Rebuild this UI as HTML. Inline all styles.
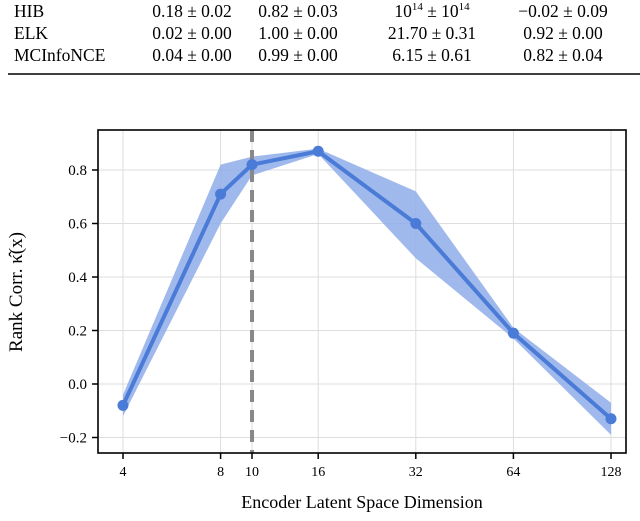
<!DOCTYPE html>
<html><head><meta charset="utf-8"><style>
body{margin:0;background:#fff;width:640px;height:516px;overflow:hidden}
svg text{font-family:"Liberation Serif",serif;fill:#000}
</style></head><body>
<svg width="640" height="516">
<g font-size="17.5">
<text x="14" y="17">HIB</text>
<text x="192" y="17" text-anchor="middle">0.18 ± 0.02</text>
<text x="298" y="17" text-anchor="middle">0.82 ± 0.03</text>
<text x="432" y="17" text-anchor="middle">10<tspan font-size="11" dy="-7">14</tspan><tspan dy="7"> ± 10</tspan><tspan font-size="11" dy="-7">14</tspan></text>
<text x="563" y="17" text-anchor="middle">−0.02 ± 0.09</text>
<text x="14" y="39">ELK</text>
<text x="192" y="39" text-anchor="middle">0.02 ± 0.00</text>
<text x="298" y="39" text-anchor="middle">1.00 ± 0.00</text>
<text x="432" y="39" text-anchor="middle">21.70 ± 0.31</text>
<text x="563" y="39" text-anchor="middle">0.92 ± 0.00</text>
<text x="14" y="61">MCInfoNCE</text>
<text x="192" y="61" text-anchor="middle">0.04 ± 0.00</text>
<text x="298" y="61" text-anchor="middle">0.99 ± 0.00</text>
<text x="432" y="61" text-anchor="middle">6.15 ± 0.61</text>
<text x="563" y="61" text-anchor="middle">0.82 ± 0.04</text>
<line x1="8" y1="74" x2="640" y2="74" stroke="#000" stroke-width="1.6"/>
</g>
<g id="chart"></g>
</svg>
<script>
const dims=[4,8,10,16,32,64,128];
const meanVals=[-0.08,0.71,0.82,0.87,0.60,0.19,-0.13];
const upperVals=[-0.04,0.82,0.85,0.88,0.72,0.21,-0.07];
const lowerVals=[-0.12,0.60,0.78,0.86,0.47,0.17,-0.19];
const yTicks=[-0.2,0.0,0.2,0.4,0.6,0.8];
const yTickLabels=["−0.2","0.0","0.2","0.4","0.6","0.8"];
const xTicks=[4,8,10,16,32,64,128];
const refDim=10;
const L=98,R=626,T=130,B=453;
const xs=d=>123+Math.log2(d/4)*97.6;
const ys=v=>384-v*267.5;
const NS="http://www.w3.org/2000/svg";
const g=document.getElementById('chart');
function mk(t,a,p){const e=document.createElementNS(NS,t);for(const k in a)e.setAttribute(k,a[k]);(p||g).appendChild(e);return e;}
yTicks.forEach((v,i)=>{
 const gl=mk('line',{x1:L,x2:R,y1:ys(v),y2:ys(v),stroke:'#ddd','stroke-width':1});
 
 
 const tk=mk('line',{x1:L-6,x2:L,y1:ys(v),y2:ys(v),stroke:'#000','stroke-width':1.5});
 
 
 const t=mk('text',{x:L-11,y:ys(v)+5,'text-anchor':'end','font-size':15});
 t.textContent=yTickLabels[i];
 
 
});
xTicks.forEach(d=>{
 const gl=mk('line',{x1:xs(d),x2:xs(d),y1:T,y2:B,stroke:'#ddd','stroke-width':1});
 
 
 const tk=mk('line',{x1:xs(d),x2:xs(d),y1:B,y2:B+6,stroke:'#000','stroke-width':1.5});
 
 
 const t=mk('text',{x:xs(d),y:B+23,'text-anchor':'middle','font-size':14});
 t.textContent=d;
 
 
});
let bp=dims.map((d,i)=>xs(d)+','+ys(upperVals[i])).join(' ')+' '+dims.map((d,i)=>xs(d)+','+ys(lowerVals[i])).reverse().join(' ');
const band=mk('polygon',{points:bp,fill:'#8fadea',opacity:0.85});


const vl=mk('line',{x1:xs(refDim),x2:xs(refDim),y1:T,y2:B,stroke:'#888','stroke-width':4,'stroke-dasharray':'12,8'});


const ln=mk('polyline',{points:dims.map((d,i)=>xs(d)+','+ys(meanVals[i])).join(' '),fill:'none',stroke:'#4a7bd6','stroke-width':4});


dims.forEach((d,i)=>{
 const c=mk('circle',{cx:xs(d),cy:ys(meanVals[i]),r:5.5,fill:'#4a7bd6'});
 
 
});
const fr=mk('rect',{x:L,y:T,width:R-L,height:B-T,fill:'none',stroke:'#000','stroke-width':1.6});


const yl=mk('text',{x:0,y:0,transform:'translate(22,292) rotate(-90)','text-anchor':'middle','font-size':19});
yl.textContent='Rank Corr. κ̂(x)';


const xl=mk('text',{x:362,y:508,'text-anchor':'middle','font-size':18});
xl.textContent='Encoder Latent Space Dimension';


</script>
</body></html>
